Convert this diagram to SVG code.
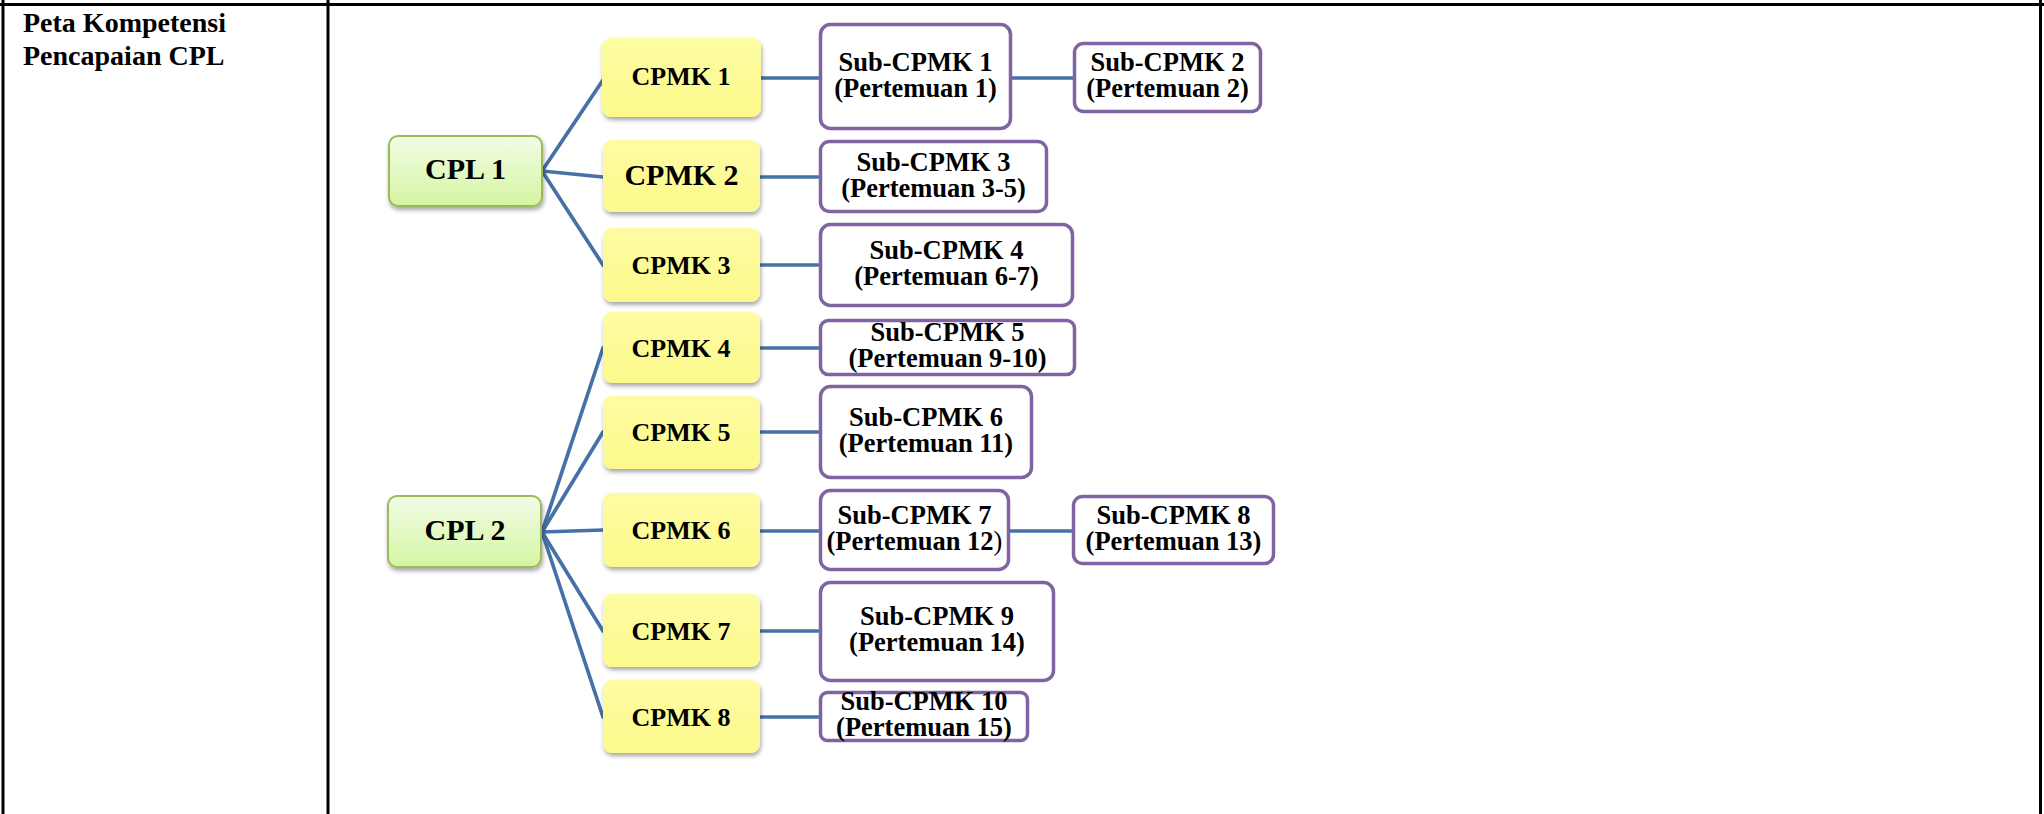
<svg xmlns="http://www.w3.org/2000/svg" width="2044" height="814" viewBox="0 0 2044 814">
<defs>
  <linearGradient id="gGreen" x1="0" y1="0" x2="0" y2="1">
    <stop offset="0" stop-color="#f2fce6"/>
    <stop offset="1" stop-color="#d5f5a2"/>
  </linearGradient>
  <linearGradient id="gYellow" x1="0" y1="0" x2="0" y2="1">
    <stop offset="0" stop-color="#fdfca2"/>
    <stop offset="1" stop-color="#fcf98c"/>
  </linearGradient>
  <filter id="shadow" x="-10%" y="-10%" width="125%" height="135%">
    <feDropShadow dx="1" dy="3" stdDeviation="2" flood-color="#000" flood-opacity="0.35"/>
  </filter>
  <style>
    .tbl { stroke:#000; stroke-width:3; fill:none; }
    .hdr { font-family:"Liberation Serif","Times New Roman",serif; font-weight:bold; font-size:28px; fill:#000; }
    .cpl { fill:url(#gGreen); stroke:#9bbb59; stroke-width:2; filter:url(#shadow); }
    .cpmk { fill:url(#gYellow); stroke:none; filter:url(#shadow); }
    .sub { fill:#fff; stroke:#8064a2; stroke-width:3.5; }
    .t { font-family:"Liberation Serif","Times New Roman",serif; font-weight:bold; fill:#000; text-anchor:middle; }
    .t30 { font-size:30px; }
    .t26 { font-size:26px; }
    .ts { font-size:26.5px; }
    .conn { stroke:#4571a6; stroke-width:3.7; fill:none; stroke-linecap:round; }
  </style>
</defs>
<rect width="2044" height="814" fill="#fff"/>

<g id="table">
  <line class="tbl" x1="0" y1="4.5" x2="2044" y2="4.5"/>
  <line class="tbl" x1="3" y1="0" x2="3" y2="814"/>
  <line class="tbl" x1="328" y1="0" x2="328" y2="814"/>
  <line class="tbl" x1="2040.5" y1="0" x2="2040.5" y2="814"/>
  <text class="hdr" x="23" y="32">Peta Kompetensi</text>
  <text class="hdr" x="23" y="65">Pencapaian CPL</text>
</g>

<g id="connectors">
  <line class="conn" x1="542" y1="171" x2="603" y2="80"/>
  <line class="conn" x1="542" y1="171" x2="603" y2="177"/>
  <line class="conn" x1="542" y1="171" x2="603" y2="265"/>
  <line class="conn" x1="542" y1="532" x2="603" y2="348"/>
  <line class="conn" x1="542" y1="532" x2="603" y2="432"/>
  <line class="conn" x1="542" y1="532" x2="603" y2="530"/>
  <line class="conn" x1="542" y1="532" x2="603" y2="631"/>
  <line class="conn" x1="542" y1="532" x2="603" y2="717"/>
  <line class="conn" x1="761" y1="78" x2="820" y2="78"/>
  <line class="conn" x1="1011" y1="78" x2="1074" y2="78"/>
  <line class="conn" x1="761" y1="177" x2="820" y2="177"/>
  <line class="conn" x1="761" y1="265" x2="820" y2="265"/>
  <line class="conn" x1="761" y1="348" x2="820" y2="348"/>
  <line class="conn" x1="761" y1="432" x2="820" y2="432"/>
  <line class="conn" x1="761" y1="531" x2="820" y2="531"/>
  <line class="conn" x1="1009" y1="531" x2="1073" y2="531"/>
  <line class="conn" x1="761" y1="631" x2="820" y2="631"/>
  <line class="conn" x1="761" y1="717" x2="820" y2="717"/>
</g>

<g id="cpl1"><rect class="cpl" x="389" y="136" width="153" height="70" rx="9"/><text class="t t30" x="465.5" y="179">CPL 1</text></g>
<g id="cpl2"><rect class="cpl" x="388" y="496" width="153" height="71" rx="9"/><text class="t t30" x="465" y="540">CPL 2</text></g>

<g id="cpmk1"><rect class="cpmk" x="602" y="38" width="159" height="79" rx="9"/><text class="t t26" x="681" y="85">CPMK 1</text></g>
<g id="cpmk2"><rect class="cpmk" x="603" y="140" width="157" height="72" rx="9"/><text class="t t30" x="681.5" y="185">CPMK 2</text></g>
<g id="cpmk3"><rect class="cpmk" x="603" y="228" width="157" height="74" rx="9"/><text class="t t26" x="681" y="274">CPMK 3</text></g>
<g id="cpmk4"><rect class="cpmk" x="603" y="312" width="157" height="71" rx="9"/><text class="t t26" x="681" y="357">CPMK 4</text></g>
<g id="cpmk5"><rect class="cpmk" x="603" y="396" width="157" height="73" rx="9"/><text class="t t26" x="681" y="441">CPMK 5</text></g>
<g id="cpmk6"><rect class="cpmk" x="603" y="493" width="157" height="74" rx="9"/><text class="t t26" x="681" y="539">CPMK 6</text></g>
<g id="cpmk7"><rect class="cpmk" x="603" y="594" width="157" height="73" rx="9"/><text class="t t26" x="681" y="640">CPMK 7</text></g>
<g id="cpmk8"><rect class="cpmk" x="603" y="680" width="157" height="73" rx="9"/><text class="t t26" x="681" y="726">CPMK 8</text></g>

<g id="sub1"><rect class="sub" x="820.5" y="24.5" width="190" height="104" rx="10"/><text class="t ts" x="915.5" y="71">Sub-CPMK 1</text><text class="t ts" x="915.5" y="97">(Pertemuan 1)</text></g>
<g id="sub2"><rect class="sub" x="1074.5" y="43.5" width="186" height="68" rx="9"/><text class="t ts" x="1167.5" y="71">Sub-CPMK 2</text><text class="t ts" x="1167.5" y="97">(Pertemuan 2)</text></g>
<g id="sub3"><rect class="sub" x="820.5" y="141.5" width="226" height="70" rx="9"/><text class="t ts" x="933.5" y="171">Sub-CPMK 3</text><text class="t ts" x="933.5" y="197">(Pertemuan 3-5)</text></g>
<g id="sub4"><rect class="sub" x="820.5" y="224.5" width="252" height="81" rx="10"/><text class="t ts" x="946.5" y="259">Sub-CPMK 4</text><text class="t ts" x="946.5" y="285">(Pertemuan 6-7)</text></g>
<g id="sub5"><rect class="sub" x="820.5" y="320.5" width="254" height="54" rx="8"/><text class="t ts" x="947.5" y="341">Sub-CPMK 5</text><text class="t ts" x="947.5" y="367">(Pertemuan 9-10)</text></g>
<g id="sub6"><rect class="sub" x="820.5" y="386.5" width="211" height="91" rx="10"/><text class="t ts" x="926" y="426">Sub-CPMK 6</text><text class="t ts" x="926" y="452">(Pertemuan 11)</text></g>
<g id="sub7"><rect class="sub" x="820.5" y="490.5" width="188" height="79" rx="10"/><text class="t ts" x="914.5" y="524">Sub-CPMK 7</text><text class="t ts" x="914.5" y="550">(Pertemuan 12<tspan font-weight="normal">)</tspan></text></g>
<g id="sub8"><rect class="sub" x="1073.5" y="496.5" width="200" height="67" rx="9"/><text class="t ts" x="1173.5" y="524">Sub-CPMK 8</text><text class="t ts" x="1173.5" y="550">(Pertemuan 13)</text></g>
<g id="sub9"><rect class="sub" x="820.5" y="582.5" width="233" height="98" rx="10"/><text class="t ts" x="937" y="625">Sub-CPMK 9</text><text class="t ts" x="937" y="651">(Pertemuan 14)</text></g>
<g id="sub10"><rect class="sub" x="820.5" y="692.5" width="207" height="48" rx="7"/><text class="t ts" x="924" y="710">Sub-CPMK 10</text><text class="t ts" x="924" y="736">(Pertemuan 15)</text></g>
</svg>
